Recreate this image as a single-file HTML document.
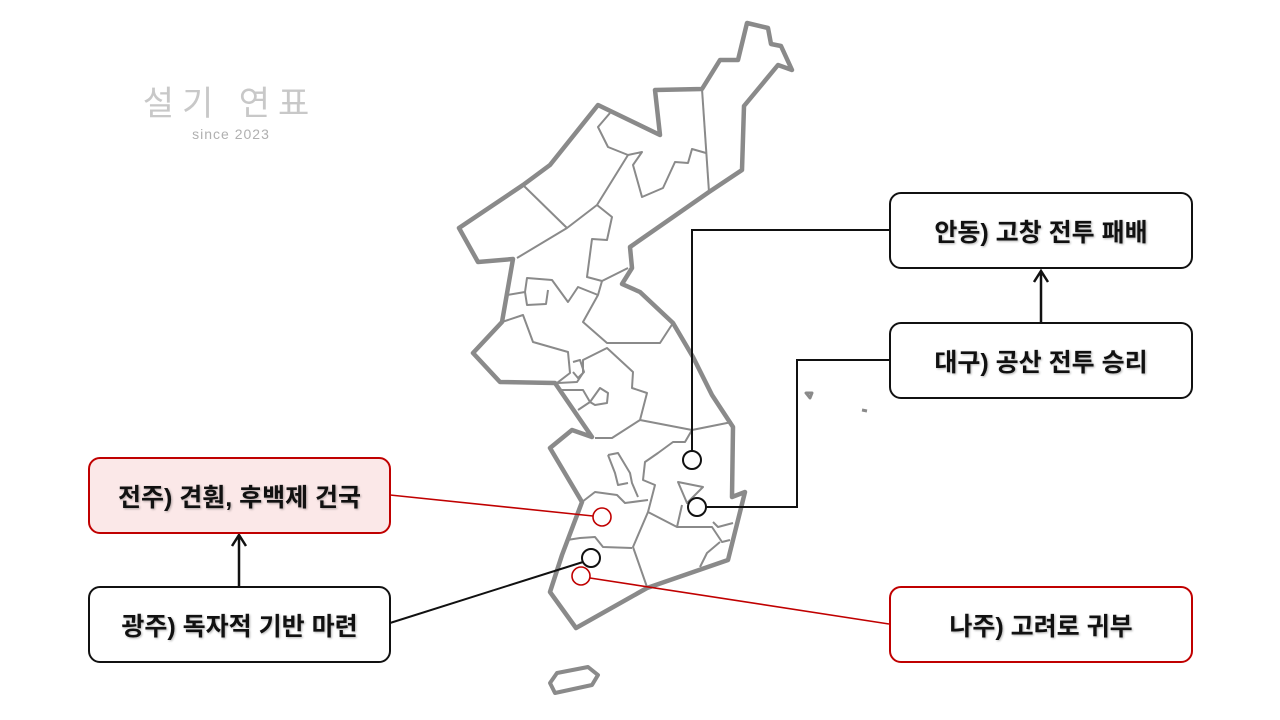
<!DOCTYPE html>
<html><head><meta charset="utf-8"><style>
html,body{margin:0;padding:0;background:#fff;}
body{width:1280px;height:720px;position:relative;overflow:hidden;font-family:"Liberation Sans","Noto Sans CJK KR",sans-serif;}
.box{position:absolute;box-sizing:border-box;border:2.5px solid #111;border-radius:12px;background:#fff;display:flex;align-items:center;justify-content:center;font-weight:bold;font-size:25px;color:#111;text-shadow:1px 1px 2px rgba(0,0,0,0.3);}
.red{border-color:#c00000;}
.pink{background:#fbe8e8;}
svg{position:absolute;left:0;top:0;}
</style></head><body>
<svg width="1280" height="720" viewBox="0 0 1280 720">
<g fill="none" stroke="#8a8a8a" stroke-linejoin="round">
<path stroke-width="4.5" d="M747,23 768,28 771,44 781,46 792,70 778,65 744,106 742,170 709,192 630,247 632,268 622,284 640,292 673,323 693,357 712,395 733,427 732,497 745,492 728,560 647,588 576,628 550,592 562,555 582,502 550,448 572,430 592,437 555,383 500,382 473,353 502,322 513,259 478,262 459,228 523,185 550,165 598,105 660,135 655,90 702,89 720,60 738,60 Z"/>
<path stroke-width="4" d="M550,683 557,673 588,667 598,675 592,685 555,693 Z"/>
<g stroke-width="2">
<path d="M702,89 709,192"/>
<path d="M610,113 598,127 608,147 628,155 642,152 633,165 642,197 663,188 675,162 688,163 692,149 706,153"/>
<path d="M628,155 597,205 567,228 517,258"/>
<path d="M523,185 567,228"/>
<path d="M597,205 612,217 607,240 592,239 587,277 602,281 628,268"/>
<path d="M602,281 598,295 583,322 607,343 660,343 673,323"/>
<path d="M507,295 525,292 527,278 552,280 568,302 578,287 598,295"/>
<path d="M525,292 527,305 546,304 548,290"/>
<path d="M502,322 523,315 533,342 568,352 570,373 557,383"/>
<path d="M558,383 577,382 583,373 583,360 607,348 633,372 632,388 647,393 640,420 612,438 595,438"/>
<path d="M573,362 580,360 584,372 578,378 573,372"/>
<path d="M560,390 583,390 590,402 578,410"/>
<path d="M590,402 600,388 608,393 607,403 595,405 Z"/>
<path d="M640,420 692,430 732,422"/>
<path d="M692,430 685,442 673,442 658,453 645,462 643,480 655,485 648,512 677,527 712,527 722,542 730,540"/>
<path d="M678,482 703,487 687,503 Z"/>
<path d="M677,527 682,505"/>
<path d="M648,512 633,547 647,587"/>
<path d="M582,502 595,492 617,495 625,503 648,500"/>
<path d="M608,455 618,453 630,473 632,483 638,497"/>
<path d="M608,455 615,473 618,485 628,483"/>
<path d="M567,540 580,538 595,537 603,547 632,548"/>
<path d="M713,522 718,527 733,523"/>
<path d="M720,542 707,553 700,567"/>
</g>
<path stroke-width="3" d="M806,393 812,393 810,398 Z"/>
<path stroke-width="3" d="M862,410 867,411"/>
</g>
<g fill="none" stroke="#111" stroke-width="2">
<path d="M889,230 H692 V451"/>
<path d="M889,360 H797 V507 H706"/>
<path d="M390,623 L583,562"/>
<path stroke-width="2.5" d="M1041,322 V272 M1034,282 L1041,271 L1048,282"/>
<path stroke-width="2.5" d="M239,586 V536 M232,546 L239,535 L246,546"/>
<circle cx="692" cy="460" r="9"/>
<circle cx="697" cy="507" r="9"/>
<circle cx="591" cy="558" r="9"/>
</g>
<g fill="none" stroke="#c00000" stroke-width="1.6">
<path d="M390,495 L593,516"/>
<path d="M590,578 L889,624"/>
<circle cx="602" cy="517" r="9"/>
<circle cx="581" cy="576" r="9"/>
</g>
<text x="230" y="115" text-anchor="middle" font-size="34" fill="#c8c8c8" font-family="Liberation Sans, Noto Sans CJK KR, sans-serif" letter-spacing="8">설기 연표</text>
<text x="231" y="139" text-anchor="middle" font-size="14" fill="#b0b0b0" font-family="Liberation Sans, sans-serif" letter-spacing="1">since 2023</text>
</svg>
<div class="box" style="left:889px;top:192px;width:304px;height:77px;">안동) 고창 전투 패배</div>
<div class="box" style="left:889px;top:322px;width:304px;height:77px;">대구) 공산 전투 승리</div>
<div class="box red" style="left:889px;top:586px;width:304px;height:77px;">나주) 고려로 귀부</div>
<div class="box red pink" style="left:88px;top:457px;width:303px;height:77px;">전주) 견훤, 후백제 건국</div>
<div class="box" style="left:88px;top:586px;width:303px;height:77px;">광주) 독자적 기반 마련</div>
</body></html>
